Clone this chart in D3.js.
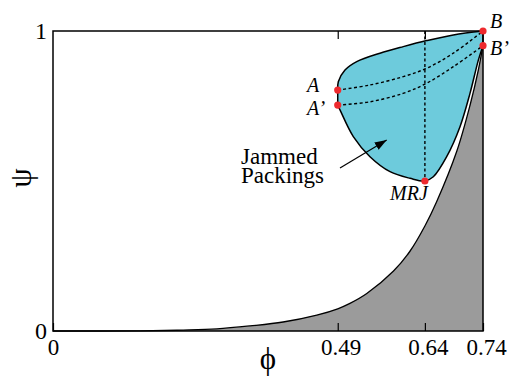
<!DOCTYPE html>
<html>
<head>
<meta charset="utf-8">
<script src="https://cdn.jsdelivr.net/npm/d3@7"></script>
<style>
  html, body { margin: 0; padding: 0; background: #fff; }
  svg { display: block; }
</style>
</head>
<body>
<svg></svg>
<script>
// Data: [phi, psi]
const grayCurve = [
  [0, 0], [0.15, 0.0005], [0.224, 0.003], [0.282, 0.007], [0.339, 0.017], [0.396, 0.03],
  [0.454, 0.053], [0.49, 0.074], [0.511, 0.092], [0.54, 0.125], [0.586, 0.2],
  [0.614, 0.265], [0.64, 0.35], [0.66, 0.43], [0.695, 0.6], [0.718, 0.755],
  [0.732, 0.87], [0.74, 0.951]
];
const upperEdge = [
  [0.49, 0.803], [0.491, 0.831], [0.5025, 0.870], [0.5227, 0.898], [0.5627, 0.926],
  [0.6028, 0.948], [0.6431, 0.968], [0.6889, 0.987], [0.74, 1]
];
const rightEdge = [[0.74, 1], [0.74, 0.951]];
const lowerEdge = [
  [0.74, 0.951], [0.732, 0.903], [0.7176, 0.792], [0.7004, 0.681], [0.6775, 0.581],
  [0.6545, 0.514], [0.64, 0.50], [0.6144, 0.509], [0.58, 0.531], [0.5455, 0.581],
  [0.5168, 0.648], [0.4939, 0.737], [0.49, 0.753]
];
const dashAB = [[0.49, 0.803], [0.5455, 0.82], [0.6028, 0.848], [0.6431, 0.876], [0.6889, 0.926], [0.74, 1]];
const dashA2B2 = [[0.49, 0.753], [0.5455, 0.764], [0.6023, 0.792], [0.6431, 0.826], [0.6889, 0.881], [0.74, 0.951]];
const dashMRJ = [[0.64, 1], [0.64, 0.5]];
const pointNames = ["A", "A\u2019", "B", "B\u2019", "MRJ"];
const pointPhi = [0.49, 0.49, 0.74, 0.74, 0.64];
const pointPsi = [0.803, 0.753, 1, 0.951, 0.5];
const arrowFrom = [0.4939, 0.543];
const arrowTo = [0.5743, 0.637];
const xTicks = [0, 0.49, 0.64, 0.74];
const xTickLabels = ["0", "0.49", "0.64", "0.74"];
const yTicks = [0, 1];

const width = 513, height = 378;
const serif = "'Liberation Serif', 'DejaVu Serif', 'Times New Roman', serif";
const svg = d3.select("svg").attr("width", width).attr("height", height)
  .attr("font-family", serif);

const x = d3.scaleLinear().domain([0, 0.74]).range([53, 483]);
const y = d3.scaleLinear().domain([0, 1]).range([331, 31]);

// gray region under the lower bound
const grayShape = d3.curveCatmullRom.alpha(0.5);
const area = d3.area().x(d => x(d[0])).y0(y(0)).y1(d => y(d[1])).curve(grayShape);
svg.append("path").datum(grayCurve).attr("d", area).attr("fill", "#9b9b9b");
const line = d3.line().x(d => x(d[0])).y(d => y(d[1]));
svg.append("path").datum(grayCurve)
  .attr("d", line.curve(grayShape))
  .attr("fill", "none").attr("stroke", "#000").attr("stroke-width", 1.3);

// jammed packings region, built from pieces so corners stay sharp
const smooth = d3.line().x(d => x(d[0])).y(d => y(d[1])).curve(d3.curveCatmullRom.alpha(0.5));
const pieces = [upperEdge, rightEdge, lowerEdge];
let dStr = pieces.map((p, i) => {
  const s = smooth(p);
  return i === 0 ? s : "L" + s.slice(1);
}).join("") + "Z";
svg.append("path").attr("d", dStr)
  .attr("fill", "#6dcbdc").attr("stroke", "#000").attr("stroke-width", 1.5)
  .attr("stroke-linejoin", "round");

// dashed lines
[dashAB, dashA2B2, dashMRJ].forEach(p => {
  svg.append("path").attr("d", smooth(p))
    .attr("fill", "none").attr("stroke", "#000").attr("stroke-width", 1.4)
    .attr("stroke-dasharray", "3,2.5");
});

// frame
svg.append("rect")
  .attr("x", x(0)).attr("y", y(1))
  .attr("width", x(0.74) - x(0)).attr("height", y(0) - y(1))
  .attr("fill", "none").attr("stroke", "#000").attr("stroke-width", 1.5);

// axes
const bottomAxis = svg.append("g").attr("transform", `translate(0,${y(0)})`)
  .call(d3.axisBottom(x).tickValues(xTicks).tickSizeInner(-8).tickSizeOuter(0).tickPadding(8)
    .tickFormat((d, i) => xTickLabels[i]));
bottomAxis.attr("font-family", serif).attr("font-size", 23);
bottomAxis.select(".domain").remove();
bottomAxis.selectAll("line").attr("stroke", "#000").attr("stroke-width", 1.2);
bottomAxis.selectAll("text").attr("fill", "#000")
  .attr("dx", (d, i) => i === 0 ? 0 : 3);

const topAxis = svg.append("g").attr("transform", `translate(0,${y(1)})`)
  .call(d3.axisTop(x).tickValues([0.49, 0.64]).tickSizeInner(-8).tickSizeOuter(0).tickFormat(""));
topAxis.select(".domain").remove();
topAxis.selectAll("line").attr("stroke", "#000").attr("stroke-width", 1.2);

const leftAxis = svg.append("g").attr("transform", `translate(${x(0)},0)`)
  .call(d3.axisLeft(y).tickValues(yTicks).tickSize(0).tickPadding(6).tickFormat(d3.format("d")));
leftAxis.attr("font-family", serif).attr("font-size", 24);
leftAxis.select(".domain").remove();
leftAxis.selectAll("text").attr("fill", "#000");

// axis titles
svg.append("text").attr("x", 268).attr("y", 369).attr("text-anchor", "middle")
  .attr("font-size", 31).text("\u03D5");
svg.append("text").attr("transform", "translate(31,178) rotate(-90)").attr("text-anchor", "middle")
  .attr("font-size", 31).text("\u03C8");

// points
svg.selectAll("circle.pt").data(pointPhi).join("circle").attr("class", "pt")
  .attr("cx", d => x(d)).attr("cy", (d, i) => y(pointPsi[i])).attr("r", 3.6)
  .attr("fill", "#ee2a2e");

// point labels
const labelPos = [[307, 92], [307, 115], [490, 28], [490, 55], [409, 200]];
svg.selectAll("text.pl").data(pointNames).join("text").attr("class", "pl")
  .attr("x", (d, i) => labelPos[i][0]).attr("y", (d, i) => labelPos[i][1])
  .attr("text-anchor", (d, i) => i === 4 ? "middle" : "start")
  .attr("font-size", 20).attr("font-style", "italic")
  .text(d => d);

// annotation
svg.append("defs").append("marker").attr("id", "ah")
  .attr("viewBox", "0 0 10 10").attr("refX", 10).attr("refY", 5)
  .attr("markerWidth", 12).attr("markerHeight", 12).attr("markerUnits", "userSpaceOnUse")
  .attr("orient", "auto")
  .append("path").attr("d", "M0,1.5L10,5L0,8.5Z").attr("fill", "#000");
svg.append("line")
  .attr("x1", x(arrowFrom[0])).attr("y1", y(arrowFrom[1]))
  .attr("x2", x(arrowTo[0])).attr("y2", y(arrowTo[1]))
  .attr("stroke", "#000").attr("stroke-width", 1.2).attr("marker-end", "url(#ah)");
const note = svg.append("text").attr("font-size", 23);
note.append("tspan").attr("x", 241).attr("y", 164).text("Jammed");
note.append("tspan").attr("x", 241).attr("y", 183).text("Packings");
</script>
</body>
</html>
